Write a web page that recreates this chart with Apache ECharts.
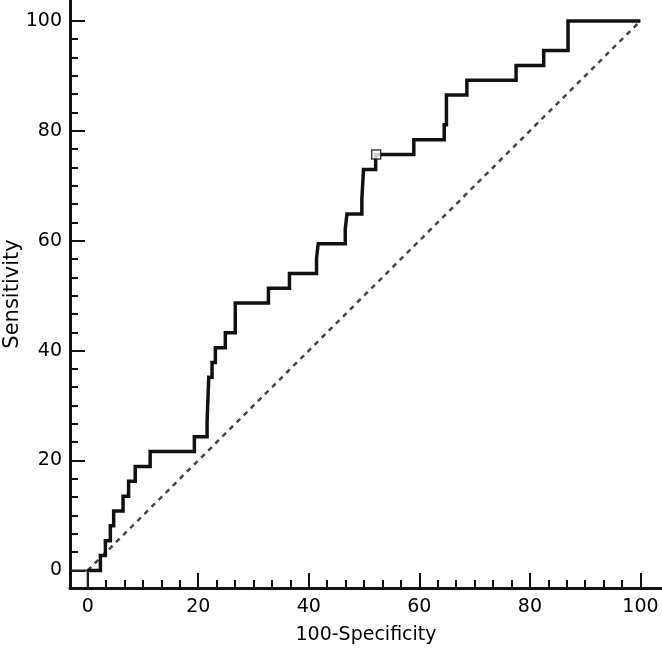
<!DOCTYPE html>
<html>
<head>
<meta charset="utf-8">
<script src="https://cdn.jsdelivr.net/npm/echarts@6/dist/echarts.min.js"></script>
<style>
html,body{margin:0;padding:0;background:#fff;}
#c{width:662px;height:648px;}
</style>
</head>
<body>
<div id="c"></div>
<script>
// ROC curve vertices (100-Specificity, Sensitivity)
var rocX = [0, 2.3, 3.2, 4.1, 4.7, 6.4, 7.4, 8.6, 11.3, 19.3, 21.6, 21.9, 22.5, 23.1, 24.9, 26.7, 32.7, 36.5, 41.4, 41.7, 46.6, 46.9, 49.6, 49.9, 52.1, 59.0, 64.5, 64.9, 68.6, 77.5, 82.5, 86.9, 100];
var rocY = [0, 2.70, 5.41, 8.11, 10.81, 13.51, 16.22, 18.92, 21.62, 24.32, 27.03, 35.14, 37.84, 40.54, 43.24, 48.65, 51.35, 54.05, 56.76, 59.46, 62.16, 64.86, 67.57, 72.97, 75.68, 78.38, 81.08, 86.49, 89.19, 91.89, 94.59, 100, 100];
// optimal criterion point
var cutX = [52.2];
var cutY = [75.68];
// reference diagonal
var diagX = [0, 100];
var diagY = [0, 100];
// tick labels
var majorTicks = [0, 20, 40, 60, 80, 100];

var AX_MIN = -3.2, X_MAX = 103.9, Y_MAX = 103.8;
var minorTicks = [];
for (var i = 0; i <= 30; i++) minorTicks.push(+(i * 100 / 30).toFixed(4));

var rocData = rocX.map(function (x, i) { return [x, rocY[i]]; });
var diagData = diagX.map(function (x, i) { return [x, diagY[i]]; });
var cutData = cutX.map(function (x, i) { return [x, cutY[i]]; });
var originData = [[AX_MIN, 0], [0, 0], [0, AX_MIN]];

var FONT = '"DejaVu Sans", sans-serif';

function mkAxis(type, isMajor, extra) {
  var ax = {
    type: 'value',
    min: AX_MIN,
    max: type === 'x' ? X_MAX : Y_MAX,
    position: type === 'x' ? 'bottom' : 'left',
    offset: 0,
    splitLine: { show: false },
    axisLine: { show: !isMajor, onZero: false, lineStyle: { color: '#111', width: 3 } },
    axisTick: {
      show: true, inside: true,
      length: isMajor ? 15 : 8,
      customValues: isMajor ? majorTicks : minorTicks,
      lineStyle: { color: '#111', width: 2 }
    },
    axisLabel: isMajor ? {
      show: true, customValues: majorTicks, color: '#000',
      fontSize: 19, fontFamily: FONT, margin: type === 'x' ? 10 : 8
    } : { show: false }
  };
  for (var k in extra) ax[k] = extra[k];
  return ax;
}

var chart = echarts.init(document.getElementById('c'), null, { renderer: 'canvas' });
chart.setOption({
  backgroundColor: '#fff',
  animation: false,
  grid: { left: 70, right: 0, top: 0, bottom: 60, containLabel: false, outerBoundsMode: 'none' },
  xAxis: [
    mkAxis('x', false, {}),
    mkAxis('x', true, {
      name: '100-Specificity', nameLocation: 'middle', nameGap: 38,
      nameTextStyle: { color: '#000', fontSize: 19, fontFamily: FONT }
    })
  ],
  yAxis: [
    mkAxis('y', false, {}),
    mkAxis('y', true, {
      name: 'Sensitivity', nameLocation: 'middle', nameGap: 47, nameMoveOverlap: false,
      nameTextStyle: { color: '#000', fontSize: 21, fontFamily: FONT }
    })
  ],
  series: [
    {
      type: 'line', data: diagData, xAxisIndex: 0, yAxisIndex: 0,
      symbol: 'none', silent: true,
      lineStyle: { color: '#444', width: 2.5, type: [5, 5] }
    },
    {
      type: 'line', data: originData, xAxisIndex: 0, yAxisIndex: 0,
      symbol: 'none', silent: true,
      lineStyle: { color: '#222', width: 2 }
    },
    {
      type: 'line', data: rocData, xAxisIndex: 0, yAxisIndex: 0,
      step: 'end', symbol: 'none', silent: true,
      lineStyle: { color: '#111', width: 3.5, join: 'miter' }
    },
    {
      type: 'scatter', data: cutData, xAxisIndex: 0, yAxisIndex: 0,
      symbol: 'rect', symbolSize: 9, silent: true, z: 5,
      itemStyle: { color: '#fff', borderColor: '#111', borderWidth: 1.5 }
    }
  ]
});
</script>
</body>
</html>
